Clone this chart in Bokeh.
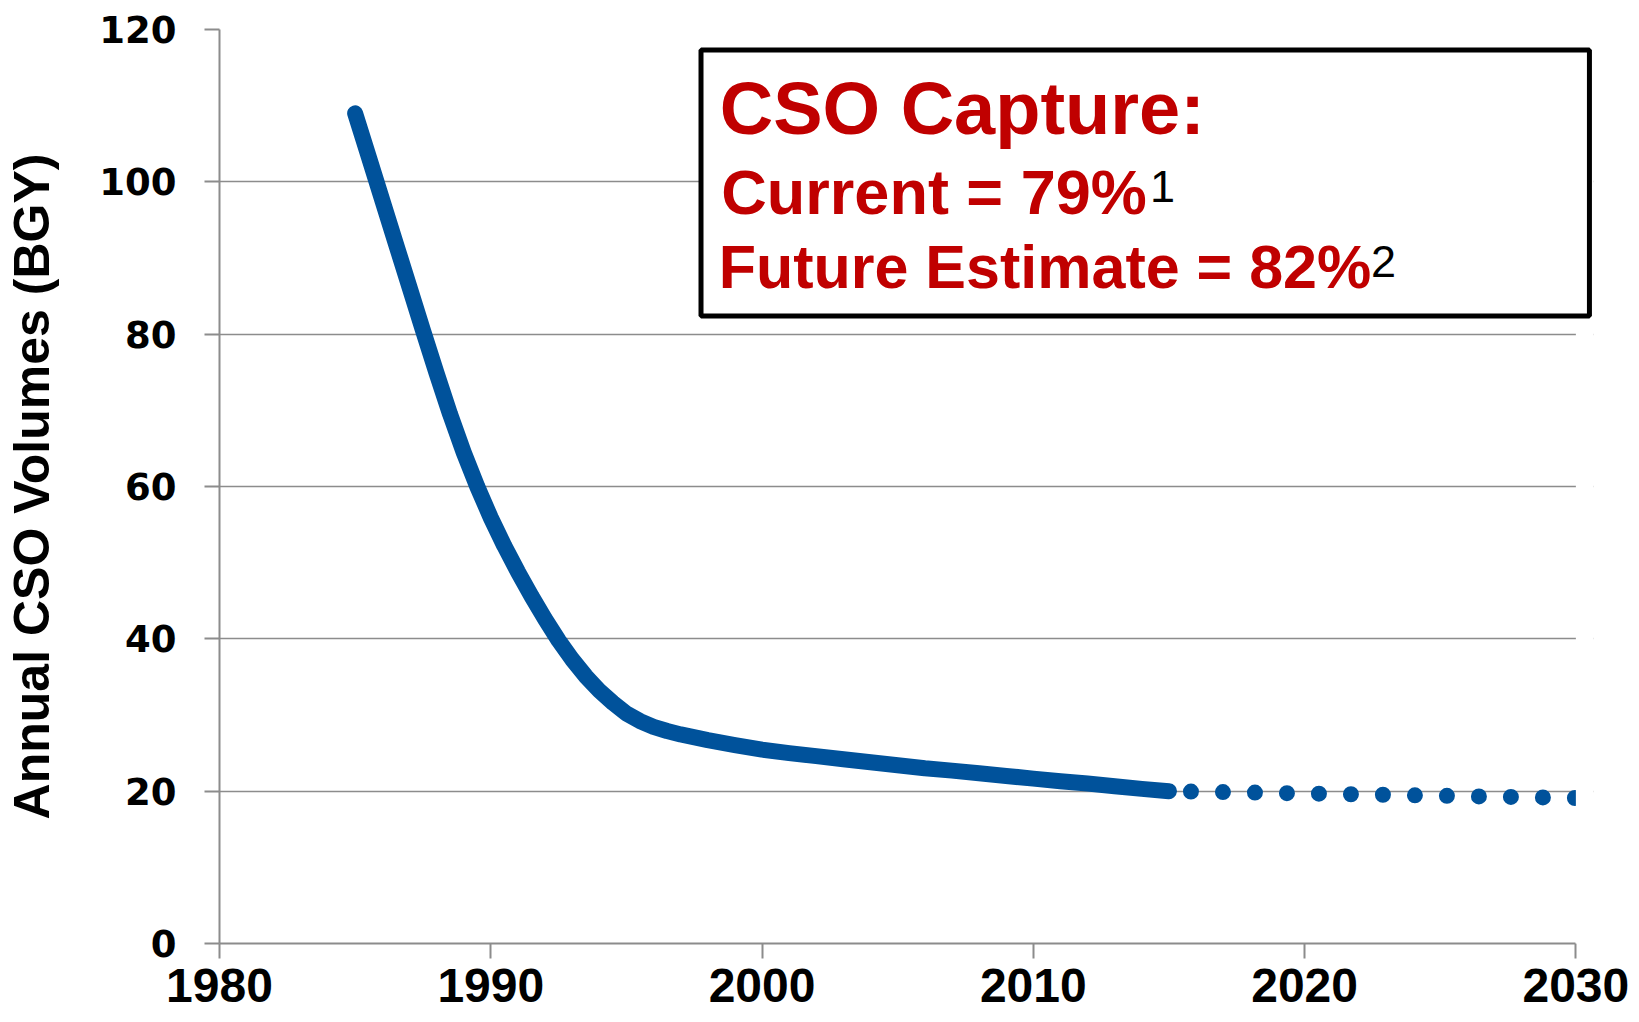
from bokeh.plotting import figure
from bokeh.models import FixedTicker, Label, Range1d, BoxAnnotation
from bokeh.embed import file_html
from bokeh.resources import INLINE

# ---- data ----
years_actual = [1985, 1985.5, 1986, 1986.5, 1987, 1987.5, 1988, 1988.5, 1989, 1989.5,
                1990, 1990.5, 1991, 1991.5, 1992, 1992.5, 1993, 1993.5, 1994, 1994.5,
                1995, 1995.5, 1996, 1996.5, 1997, 1998, 1999, 2000, 2001, 2002,
                2003, 2004, 2005, 2006, 2007, 2008, 2009, 2010, 2011, 2012,
                2013, 2014, 2015]
cso_actual = [109.0, 103.3, 97.6, 91.9, 86.2, 80.5, 74.9, 69.5, 64.5, 60.0,
              55.9, 52.2, 48.8, 45.6, 42.6, 39.8, 37.3, 35.1, 33.2, 31.6,
              30.2, 29.2, 28.45, 27.9, 27.45, 26.7, 26.05, 25.45, 25.0, 24.6,
              24.2, 23.8, 23.4, 23.0, 22.7, 22.35, 22.0, 21.65, 21.3, 21.0,
              20.65, 20.3, 20.0]
years_proj = [2015, 2020, 2025, 2030]
cso_proj = [20.0, 19.7, 19.4, 19.1]

x_ticks = [1980, 1990, 2000, 2010, 2020, 2030]
y_ticks = [0, 20, 40, 60, 80, 100, 120]
grid_ticks = [0, 20, 40, 60, 80, 100]

y_title = "Annual CSO Volumes (BGY)"
title_text = "CSO Capture:"
line1_text = "Current = 79%"
line2_text = "Future Estimate = 82%"
sup1_text = "1"
sup2_text = "2"

BLUE = "#00529B"
RED = "#C00000"
GRID = "#8c8c8c"

X_END = 2030  # last year shown on the axis

p = figure(width=1635, height=1022,
           x_range=Range1d(1980, 2030.65), y_range=Range1d(0, 120),
           output_backend="svg", toolbar_location=None,
           min_border_left=219, min_border_right=42,
           min_border_top=29, min_border_bottom=79)
p.outline_line_color = None
p.background_fill_color = "white"
p.border_fill_color = "white"

p.xgrid.visible = False
p.ygrid.ticker = FixedTicker(ticks=grid_ticks)
p.ygrid.grid_line_color = GRID
p.ygrid.grid_line_width = 1.5

for ax in (p.xaxis[0], p.yaxis[0]):
    ax.axis_line_color = GRID
    ax.axis_line_width = 2
    ax.major_tick_line_color = GRID
    ax.major_tick_line_width = 2
    ax.major_tick_in = 0
    ax.major_tick_out = 15
    ax.minor_tick_line_color = None
    ax.major_label_text_color = "black"

p.xaxis.bounds = (1980, X_END)
p.xaxis.ticker = FixedTicker(ticks=x_ticks)
p.xaxis.major_label_text_font = "Liberation Sans"
p.xaxis.major_label_text_font_style = "bold"
p.xaxis.major_label_text_font_size = "48px"
p.xaxis.major_label_standoff = 10

p.yaxis.ticker = FixedTicker(ticks=y_ticks)
p.yaxis.major_label_text_font = "DejaVu Sans"
p.yaxis.major_label_text_font_style = "bold"
p.yaxis.major_label_text_font_size = "37px"
p.yaxis.major_label_standoff = 28
p.yaxis.axis_label = y_title
p.yaxis.axis_label_text_font = "Liberation Sans"
p.yaxis.axis_label_text_font_style = "bold"
p.yaxis.axis_label_text_font_size = "50px"
p.yaxis.axis_label_text_color = "black"
p.yaxis.axis_label_standoff = 36

# ---- series ----
p.line(years_actual, cso_actual, line_color=BLUE, line_width=16,
       line_cap="round", line_join="round")
p.line(years_proj, cso_proj, line_color=BLUE, line_width=16,
       line_cap="round", line_dash="0 32", line_dash_offset=10)

# plot area ends at 2030: blank out the margin to its right
p.add_layout(BoxAnnotation(left=X_END, fill_color="white", fill_alpha=1.0,
                           line_color=None))

# ---- annotation box ----
p.add_layout(BoxAnnotation(left=1997.75, right=2030.5, top=117.3, bottom=82.4,
                           fill_color="white", fill_alpha=1.0,
                           line_color="black", line_width=5, line_alpha=1.0))

def lab(x, y, text, size, color, style="bold"):
    p.add_layout(Label(x=x, y=y, text=text, text_font="Liberation Sans",
                       text_font_style=style, text_font_size=size,
                       text_color=color, text_baseline="alphabetic",
                       text_align="left"))

lab(1998.44, 109.6, title_text, "74px", RED)
lab(1998.5, 98.7, line1_text, "63px", RED)
lab(1998.4, 88.8, line2_text, "61px", RED)
lab(2014.3, 99.4, sup1_text, "45px", "black", "normal")
lab(2022.45, 89.5, sup2_text, "45px", "black", "normal")

open("out.html", "w").write(file_html(p, INLINE))
